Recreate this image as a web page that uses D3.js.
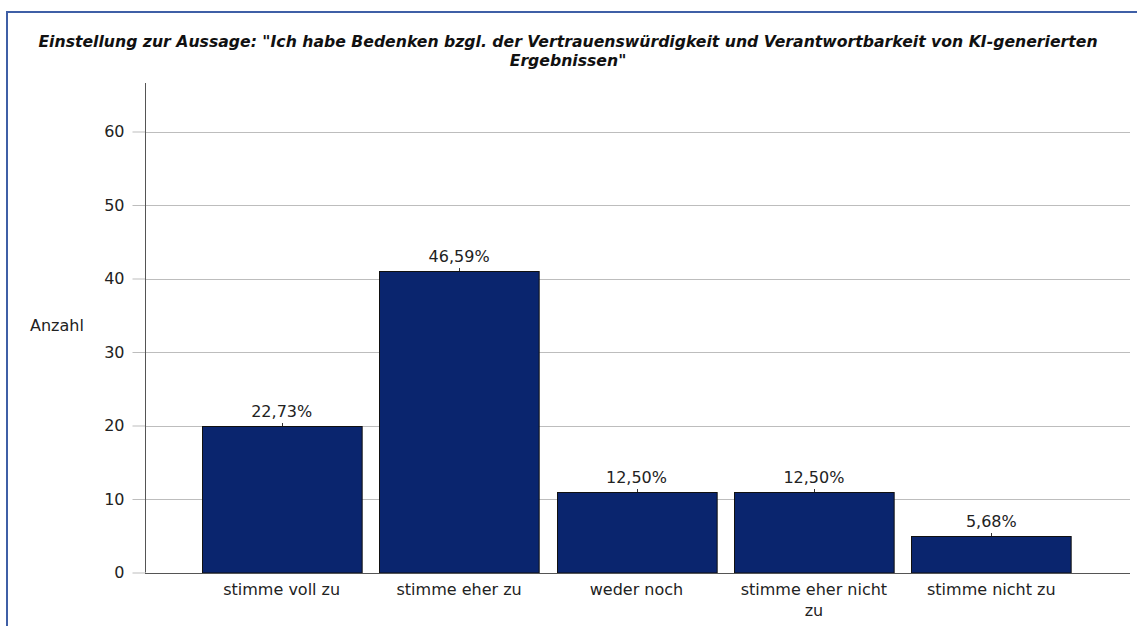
<!DOCTYPE html>
<html>
<head>
<meta charset="utf-8">
<script src="https://cdn.jsdelivr.net/npm/d3@7"></script>
<style>
  body { margin: 0; background: #fff; }
  svg { display: block; font-family: 'DejaVu Sans', sans-serif; }
</style>
</head>
<body>
<svg id="chart" width="1137" height="626"></svg>
<script>
const categories = ['stimme voll zu', 'stimme eher zu', 'weder noch', 'stimme eher nicht zu', 'stimme nicht zu']
const counts = [20, 41, 11, 11, 5]
const percentLabels = ['22,73%', '46,59%', '12,50%', '12,50%', '5,68%']
const yTicks = [0, 10, 20, 30, 40, 50, 60]
const titleLines = ['Einstellung zur Aussage: "Ich habe Bedenken bzgl. der Vertrauenswürdigkeit und Verantwortbarkeit von KI-generierten', 'Ergebnissen"']

const svg = d3.select('#chart')

// frame
svg.append('path')
  .attr('d', 'M7,626 V12 H1137')
  .attr('fill', 'none')
  .attr('stroke', '#3f5fa6')
  .attr('stroke-width', 2)

const axisX = 145
const plotRight = 1130
const y = d3.scaleLinear().domain([0, 66.6]).range([572.5, 83])
const x = d3.scaleBand().domain(categories).range([193, 1080]).paddingInner(0.1).paddingOuter(0.05)

// title, sized so the first line spans ~1060px like the original
const title = svg.append('text')
  .attr('x', 568)
  .attr('y', 47)
  .attr('text-anchor', 'middle')
  .attr('font-weight', 'bold')
  .attr('font-style', 'italic')
  .attr('font-size', 15)
  .attr('fill', '#111')
title.selectAll('tspan').data(titleLines).join('tspan')
  .attr('x', 568)
  .attr('dy', (d, i) => i ? 19 : 0)
  .text(d => d)
const firstLen = title.select('tspan').node().getComputedTextLength()
title.attr('font-size', 15 * 1060 / firstLen)

// grid
svg.append('g').selectAll('line').data(yTicks.filter(d => d > 0)).join('line')
  .attr('x1', axisX).attr('x2', plotRight)
  .attr('y1', d => Math.round(y(d)) + 0.5).attr('y2', d => Math.round(y(d)) + 0.5)
  .attr('stroke', '#bdbdbd')

// y axis
const yAxis = svg.append('g')
  .attr('transform', `translate(${axisX + 0.5},0)`)
  .call(d3.axisLeft(y).tickValues(yTicks).tickSize(13).tickPadding(8))
yAxis.select('.domain').remove()
yAxis.selectAll('.tick line').attr('stroke', '#bdbdbd')
yAxis.selectAll('.tick text').attr('font-size', 16).attr('font-family', 'DejaVu Sans').attr('fill', '#222')
svg.append('line')
  .attr('x1', axisX + 0.5).attr('x2', axisX + 0.5)
  .attr('y1', y.range()[1]).attr('y2', y(0))
  .attr('stroke', '#555')

svg.append('text')
  .attr('x', 30).attr('y', 331)
  .attr('font-size', 16)
  .attr('fill', '#222')
  .text('Anzahl')

// bars
svg.append('g').selectAll('rect').data(counts).join('rect')
  .attr('x', (d, i) => Math.round(x(categories[i])) + 0.5)
  .attr('y', d => Math.round(y(d)) + 0.5)
  .attr('width', x.bandwidth())
  .attr('height', d => y(0) - Math.round(y(d)))
  .attr('fill', '#0a256e')
  .attr('stroke', '#111')

// small marker above bars
svg.append('g').selectAll('line').data(counts).join('line')
  .attr('x1', (d, i) => Math.round(x(categories[i]) + x.bandwidth() / 2) + 0.5)
  .attr('x2', (d, i) => Math.round(x(categories[i]) + x.bandwidth() / 2) + 0.5)
  .attr('y1', d => Math.round(y(d)))
  .attr('y2', d => Math.round(y(d)) - 3)
  .attr('stroke', '#333')

svg.append('g').selectAll('text').data(counts).join('text')
  .attr('x', (d, i) => x(categories[i]) + x.bandwidth() / 2)
  .attr('y', d => y(d) - 9)
  .attr('text-anchor', 'middle')
  .attr('font-size', 16)
  .attr('fill', '#222')
  .text((d, i) => percentLabels[i])

// x axis line
svg.append('line')
  .attr('x1', axisX).attr('x2', plotRight)
  .attr('y1', Math.round(y(0)) + 0.5).attr('y2', Math.round(y(0)) + 0.5)
  .attr('stroke', '#555')

// x labels, wrapped to band width
svg.append('g').selectAll('text').data(categories).join('text')
  .attr('text-anchor', 'middle')
  .attr('font-size', 16)
  .attr('fill', '#222')
  .each(function (d) {
    const cx = x(d) + x.bandwidth() / 2
    const lines = d === 'stimme eher nicht zu' ? ['stimme eher nicht', 'zu'] : [d]
    d3.select(this).selectAll('tspan').data(lines).join('tspan')
      .attr('x', cx)
      .attr('y', (l, i) => 595 + i * 21)
      .text(l => l)
  })
</script>
</body>
</html>
